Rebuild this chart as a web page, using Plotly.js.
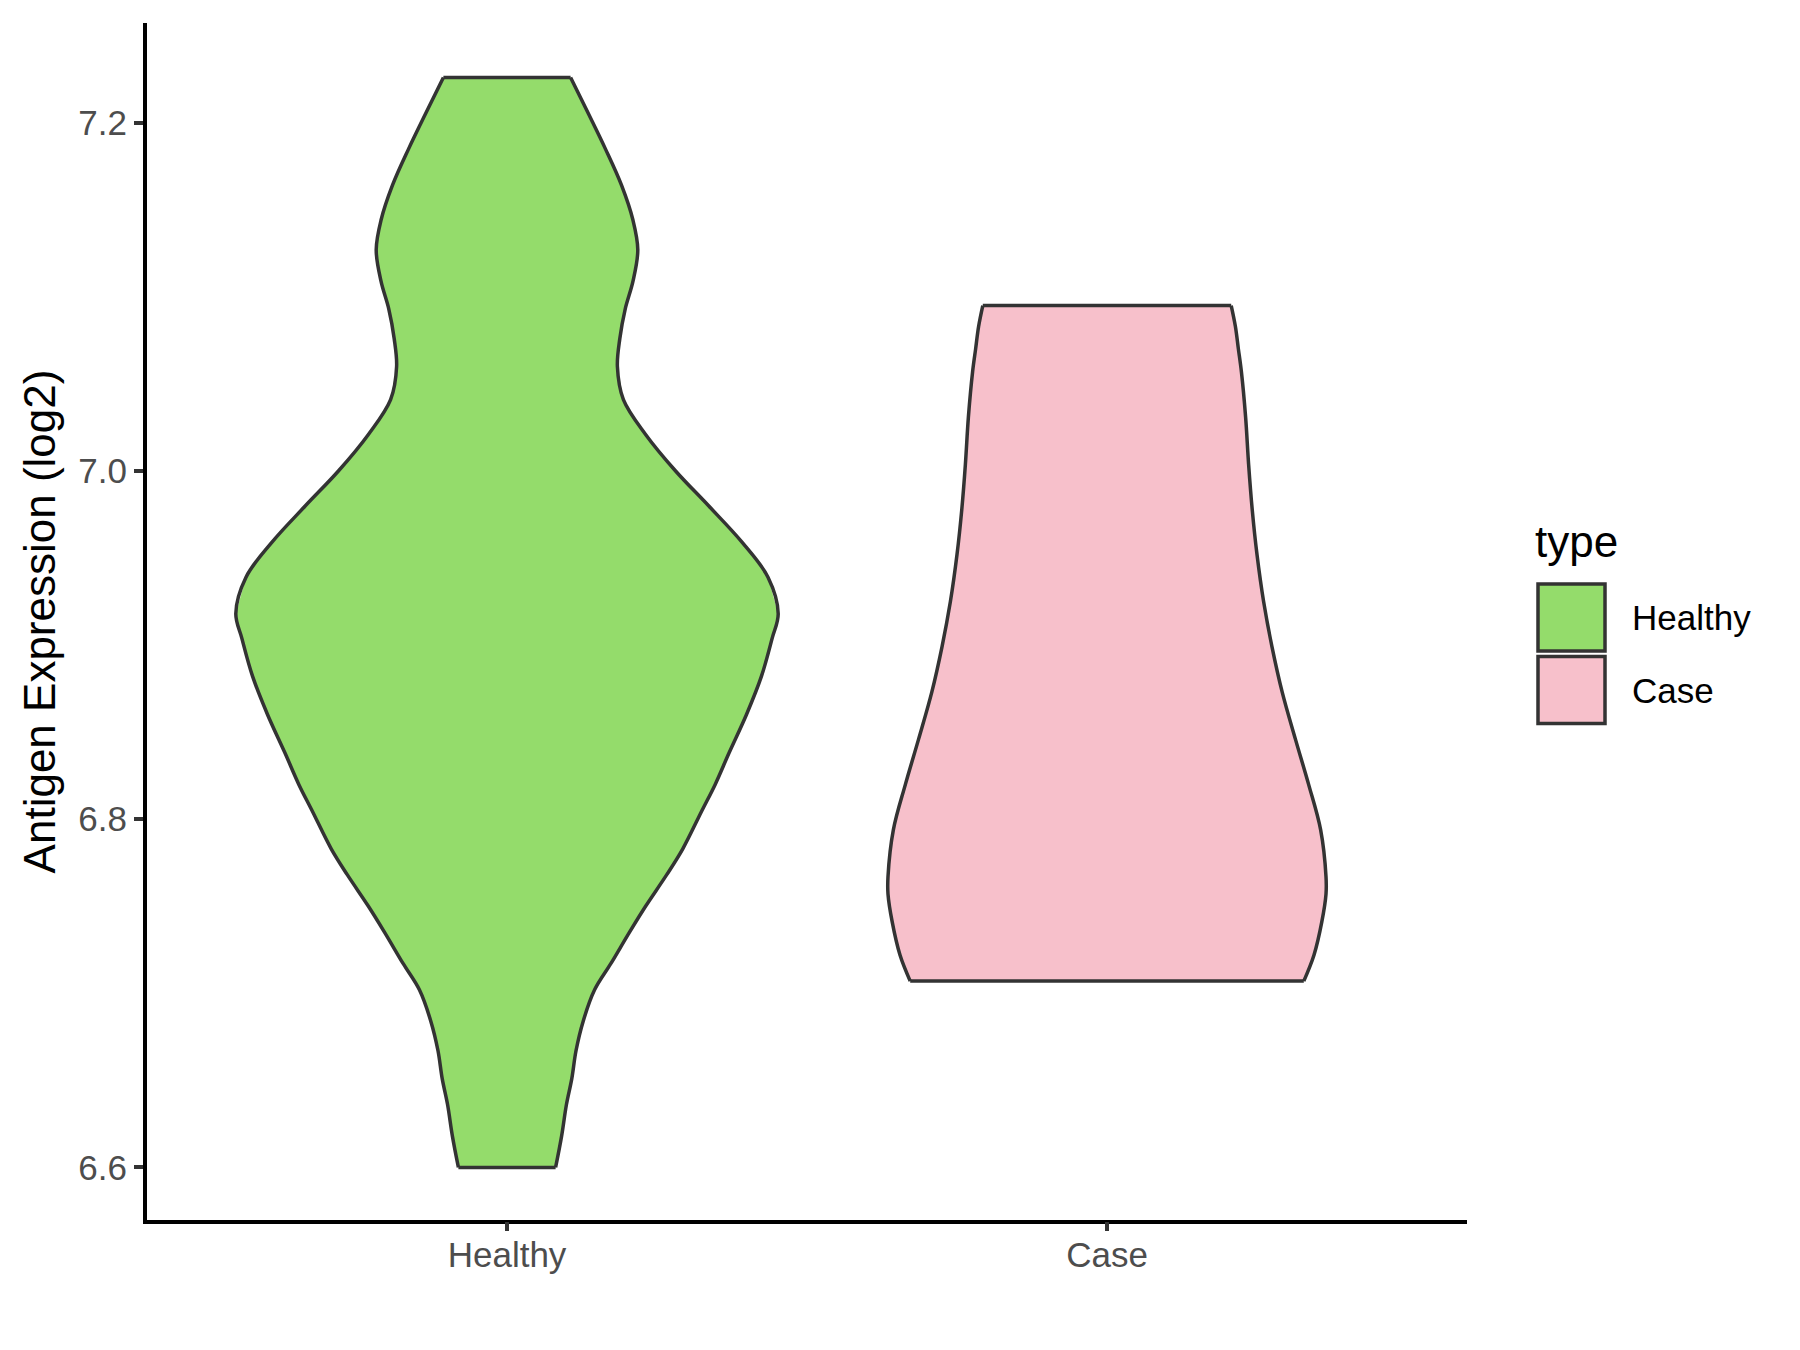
<!DOCTYPE html>
<html>
<head>
<meta charset="utf-8">
<script src="https://cdn.plot.ly/plotly-3.0.1.min.js"></script>
<style>html,body{margin:0;padding:0;background:#fff;}#chart{width:1800px;height:1350px;}</style>
</head>
<body>
<div id="chart"></div>
<script>
// Categories and colours
const categories = ["Healthy", "Case"];
const fillColors = ["#94DC6B", "#F7C0CB"];

// Violin density profiles: y value and half-width (x units)
const healthyY = [7.226, 7.205, 7.185, 7.164, 7.144, 7.127, 7.109, 7.093, 7.076, 7.060, 7.041, 7.021, 7.000, 6.980, 6.959, 6.939, 6.918, 6.904, 6.882, 6.860, 6.838, 6.820, 6.805, 6.783, 6.768, 6.750, 6.735, 6.717, 6.702, 6.684, 6.667, 6.651, 6.636, 6.618, 6.600];
const healthyW = [0.106, 0.136, 0.164, 0.191, 0.210, 0.218, 0.210, 0.197, 0.188, 0.184, 0.194, 0.231, 0.281, 0.336, 0.392, 0.435, 0.452, 0.442, 0.424, 0.399, 0.370, 0.347, 0.325, 0.293, 0.266, 0.231, 0.204, 0.173, 0.146, 0.127, 0.115, 0.108, 0.099, 0.091, 0.081];

const caseY = [7.095, 7.083, 7.070, 7.057, 7.031, 7.004, 6.978, 6.952, 6.925, 6.899, 6.873, 6.846, 6.820, 6.794, 6.767, 6.757, 6.741, 6.722, 6.707];
const caseW = [0.207, 0.214, 0.219, 0.224, 0.231, 0.236, 0.242, 0.250, 0.261, 0.275, 0.292, 0.314, 0.336, 0.356, 0.365, 0.365, 0.358, 0.345, 0.328];

// Axis ticks
const yTickVals = [6.6, 6.8, 7.0, 7.2];
const yTickText = ["6.6", "6.8", "7.0", "7.2"];
const yTitle = "Antigen Expression (log2)";
const legendTitle = "type";

const profiles = [
  {y: healthyY, w: healthyW},
  {y: caseY, w: caseW}
];

const FONT = "Liberation Sans, Arial, Helvetica, sans-serif";
const OUTLINE = "#333333";
const LW = 3.5;

const traces = [];
profiles.forEach((p, i) => {
  const pos = i + 1;
  const n = p.y.length;
  const rx = p.w.map(w => pos + w);
  const lx = p.w.map(w => pos - w);
  // filled body (no outline)
  const xs = rx.concat(lx.slice().reverse());
  const ys = p.y.concat(p.y.slice().reverse());
  traces.push({
    type: "scatter", mode: "lines", x: xs, y: ys,
    fill: "toself", fillcolor: fillColors[i],
    line: {width: 0, color: fillColors[i]},
    name: categories[i], showlegend: false, hoverinfo: "skip"
  });
  // smooth side outlines
  [rx, lx].forEach(sx => {
    traces.push({
      type: "scatter", mode: "lines", x: sx, y: p.y,
      line: {color: OUTLINE, width: LW, shape: "spline", smoothing: 1},
      showlegend: false, hoverinfo: "skip"
    });
  });
  // flat top and bottom edges
  [0, n - 1].forEach(k => {
    traces.push({
      type: "scatter", mode: "lines", x: [lx[k], rx[k]], y: [p.y[k], p.y[k]],
      line: {color: OUTLINE, width: LW}, showlegend: false, hoverinfo: "skip"
    });
  });
});

// Manual legend (keys + labels) built from categories/colours
const plotL = 147, plotR = 1467, plotT = 23, plotB = 1220;
const pw = plotR - plotL, ph = plotB - plotT;
const px = v => (v - plotL) / pw;
const py = v => (plotB - v) / ph;

const shapes = [];
const annotations = [];
const keyX0 = 1538, keyX1 = 1605, keyTop = 584, keyH = 67, keyGap = 5.5;
categories.forEach((c, i) => {
  const t = keyTop + i * (keyH + keyGap);
  shapes.push({
    type: "rect", xref: "paper", yref: "paper",
    x0: px(keyX0), x1: px(keyX1), y0: py(t + keyH), y1: py(t),
    fillcolor: fillColors[i], line: {color: OUTLINE, width: LW}
  });
  annotations.push({
    xref: "paper", yref: "paper", x: px(1630), y: py(t + keyH / 2),
    xanchor: "left", yanchor: "middle", showarrow: false, text: c,
    font: {family: FONT, size: 35, color: "#000000"}
  });
  // x-axis tick marks at category positions
  shapes.push({
    type: "line", xref: "x", yref: "paper", x0: i + 1, x1: i + 1,
    y0: py(plotB + 2), y1: py(plotB + 11),
    line: {color: OUTLINE, width: 4}
  });
});
annotations.push({
  xref: "paper", yref: "paper", x: px(1533), y: py(541),
  xanchor: "left", yanchor: "middle", showarrow: false, text: legendTitle,
  font: {family: FONT, size: 44, color: "#000000"}
});

const axisCommon = {
  showline: true, linecolor: "#000000", linewidth: 4,
  ticklen: 9, tickwidth: 4, tickcolor: OUTLINE,
  tickfont: {family: FONT, size: 35, color: "#4D4D4D"},
  showgrid: false, zeroline: false, fixedrange: true
};

const layout = {
  width: 1800, height: 1350,
  margin: {l: plotL, r: 1800 - plotR, t: plotT, b: 1350 - plotB},
  paper_bgcolor: "#ffffff", plot_bgcolor: "#ffffff",
  showlegend: false,
  xaxis: Object.assign({}, axisCommon, {
    ticks: "", ticklabelstandoff: 1,
    range: [0.4, 2.6], tickmode: "array", tickvals: [1, 2], ticktext: categories
  }),
  yaxis: Object.assign({}, axisCommon, {
    ticks: "outside",
    range: [6.5698, 7.2573], tickmode: "array", tickvals: yTickVals, ticktext: yTickText,
    title: {text: yTitle, font: {family: FONT, size: 44, color: "#000000"}, standoff: 10}
  }),
  shapes: shapes,
  annotations: annotations
};

Plotly.newPlot("chart", traces, layout, {displayModeBar: false, staticPlot: true});
</script>
</body>
</html>
